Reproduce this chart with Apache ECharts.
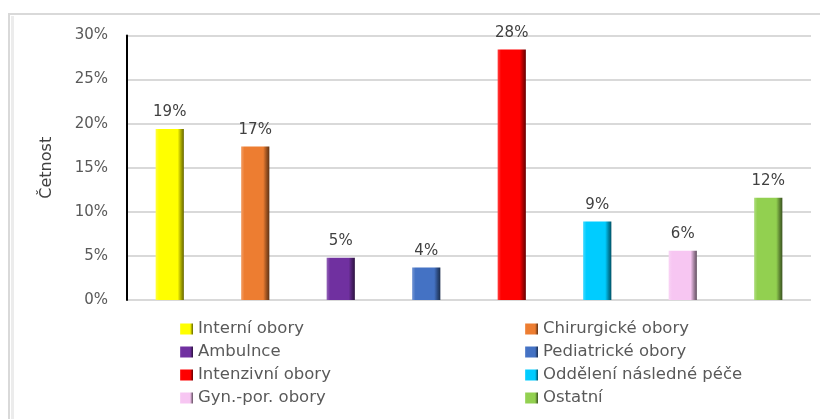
<!DOCTYPE html>
<html>
<head>
<meta charset="utf-8">
<style>
  html, body { margin: 0; padding: 0; background: #ffffff; }
  #chart { width: 820px; height: 419px; }
</style>
<script src="https://cdn.jsdelivr.net/npm/echarts@6/dist/echarts.min.js"></script>
</head>
<body>
<div id="chart"></div>
<script>
// Categories of hospital departments and their share (%)
const categories = [
  'Interní obory', 'Chirurgické obory', 'Ambulnce', 'Pediatrické obory',
  'Intenzivní obory', 'Oddělení následné péče', 'Gyn.-por. obory', 'Ostatní'
];
const shares = [19.4, 17.4, 4.8, 3.7, 28.4, 8.9, 5.6, 11.6];
const barColors = ['#ffff00', '#ed7d31', '#7030a0', '#4472c4', '#ff0000', '#00ccff', '#f7c6f2', '#92d050'];
const yTicks = [0, 5, 10, 15, 20, 25, 30];

// Legend columns (two columns, read row by row)
const legendLeft = [categories[0], categories[2], categories[4], categories[6]];
const legendRight = [categories[1], categories[3], categories[5], categories[7]];

const FONT = 'DejaVu Sans';

function shade(hex, f) {
  const n = parseInt(hex.slice(1), 16);
  let r = (n >> 16) & 255, g = (n >> 8) & 255, b = n & 255;
  const m = c => f < 0 ? Math.round(c * (1 + f)) : Math.round(c + (255 - c) * f);
  return 'rgb(' + m(r) + ',' + m(g) + ',' + m(b) + ')';
}

// Horizontal shading that gives each bar a bevelled look
function bevel(hex) {
  return {
    type: 'linear', x: 0, y: 0, x2: 1, y2: 0,
    colorStops: [
      { offset: 0, color: shade(hex, 0.25) },
      { offset: 0.12, color: hex },
      { offset: 0.78, color: hex },
      { offset: 0.9, color: shade(hex, -0.35) },
      { offset: 1, color: shade(hex, -0.6) }
    ]
  };
}

const series = categories.map((name, i) => ({
  name: name,
  type: 'bar',
  stack: 'total',
  barWidth: '33%',
  itemStyle: { color: bevel(barColors[i]) },
  label: {
    show: true,
    position: 'top',
    distance: 9,
    fontFamily: FONT,
    fontSize: 15,
    color: '#404040',
    formatter: p => Math.round(p.value) + '%'
  },
  data: categories.map((c, j) => (j === i ? shares[i] : null))
}));

const legendCommon = {
  orient: 'vertical',
  top: 315,
  icon: 'rect',
  itemWidth: 13,
  itemHeight: 11,
  itemGap: 5,
  textStyle: { fontFamily: FONT, fontSize: 16.5, color: '#595959', lineHeight: 18, padding: [0, 0, 0, 0] }
};

const chart = echarts.init(document.getElementById('chart'), null, { renderer: 'canvas' });
chart.setOption({
  backgroundColor: '#ffffff',
  animation: false,
  color: barColors,
  graphic: [
    { type: 'rect', shape: { x: 9, y: 14, width: 820, height: 420 }, style: { fill: 'none', stroke: '#d9d9d9', lineWidth: 2 }, z: -1 },
    { type: 'rect', shape: { x: 11, y: 16, width: 3, height: 410 }, style: { fill: '#ececec' }, z: -1 }
  ],
  grid: { left: 127, right: 9, top: 35.5, bottom: 119 },
  legend: [
    Object.assign({}, legendCommon, { left: 175, data: legendLeft }),
    Object.assign({}, legendCommon, { left: 520, data: legendRight })
  ],
  xAxis: {
    type: 'category',
    data: categories,
    axisLine: { show: false },
    axisTick: { show: false },
    axisLabel: { show: false }
  },
  yAxis: {
    type: 'value',
    min: yTicks[0],
    max: yTicks[yTicks.length - 1],
    interval: 5,
    name: 'Četnost',
    nameLocation: 'middle',
    nameGap: 72,
    nameTextStyle: { fontFamily: FONT, fontSize: 16, color: '#404040' },
    axisLine: { show: true, lineStyle: { color: '#000000', width: 2 } },
    axisTick: { show: false },
    axisLabel: {
      margin: 19,
      fontFamily: FONT,
      fontSize: 15,
      color: '#595959',
      formatter: v => v + '%'
    },
    splitLine: { lineStyle: { color: '#d9d9d9', width: 2 } }
  },
  series: series
});
</script>
</body>
</html>
